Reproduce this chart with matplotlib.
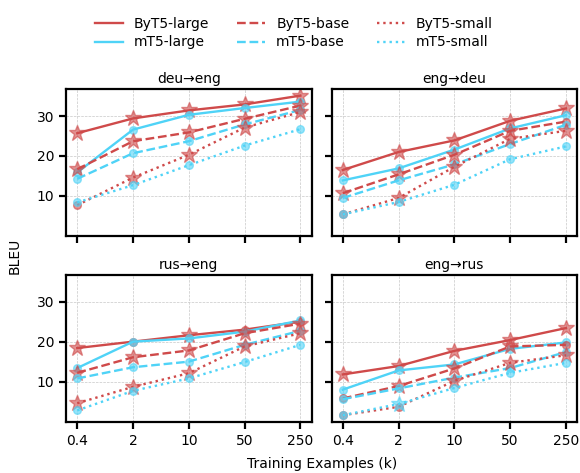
import matplotlib
matplotlib.use("Agg")
import matplotlib.pyplot as plt
import numpy as np

# training set sizes (thousands of examples)
sizes = ["0.4", "2", "10", "50", "250"]
pairs = ["deu→eng", "eng→deu", "rus→eng", "eng→rus"]

# BLEU per language pair (rows follow `pairs`)
byt5_large = [[25.7, 29.4, 31.4, 32.9, 35.1],
              [16.5, 21.0, 23.9, 28.8, 31.9],
              [18.4, 20.0, 21.6, 23.0, 25.0],
              [11.8, 13.9, 17.7, 20.4, 23.4]]
mt5_large = [[15.9, 26.6, 30.3, 32.0, 33.6],
             [13.9, 16.9, 21.6, 26.9, 30.2],
             [13.4, 20.0, 20.8, 22.5, 25.3],
             [8.0, 12.8, 14.3, 18.2, 19.8]]
byt5_base = [[16.7, 23.7, 25.9, 29.3, 32.6],
             [10.7, 15.4, 20.3, 26.3, 28.6],
             [12.2, 16.1, 17.8, 22.1, 24.5],
             [5.8, 8.9, 13.3, 18.8, 19.2]]
mt5_base = [[14.3, 20.7, 23.7, 27.9, 31.5],
            [9.5, 13.9, 17.9, 23.0, 27.8],
            [10.8, 13.6, 15.0, 19.2, 22.7],
            [5.6, 8.3, 11.0, 13.4, 17.4]]
byt5_small = [[7.7, 14.6, 20.3, 27.1, 31.0],
              [5.4, 9.5, 17.3, 24.3, 26.3],
              [4.6, 8.7, 12.1, 18.8, 22.1],
              [1.6, 3.7, 10.2, 14.7, 16.6]]
mt5_small = [[8.4, 12.7, 17.7, 22.6, 26.7],
             [5.4, 8.5, 12.8, 19.2, 22.4],
             [2.8, 7.7, 10.8, 14.9, 19.2],
             [1.6, 4.4, 8.4, 12.2, 14.7]]

# 1 = significantly better than the other model of the same size (star)
byt5_large_sig = [[1, 1, 1, 1, 1], [1, 1, 1, 1, 1], [1, 0, 1, 0, 0], [1, 1, 1, 1, 1]]
mt5_large_sig = [[0, 0, 0, 0, 0]] * 4
byt5_base_sig = [[1, 1, 1, 1, 1], [1, 1, 1, 1, 0], [1, 1, 1, 1, 1], [0, 1, 1, 1, 0]]
mt5_base_sig = [[0, 0, 0, 0, 0]] * 4
byt5_small_sig = [[0, 1, 1, 1, 1], [0, 1, 1, 1, 1], [1, 1, 1, 1, 1], [0, 0, 1, 1, 1]]
mt5_small_sig = [[0, 0, 0, 0, 0], [0, 0, 0, 0, 0], [0, 0, 0, 0, 0], [0, 1, 0, 0, 0]]

RED = "#cf4a4a"
CYAN = "#4fd3f7"

series = [
    ("ByT5-large", byt5_large, byt5_large_sig, RED, "-"),
    ("mT5-large", mt5_large, mt5_large_sig, CYAN, "-"),
    ("ByT5-base", byt5_base, byt5_base_sig, RED, "--"),
    ("mT5-base", mt5_base, mt5_base_sig, CYAN, "--"),
    ("ByT5-small", byt5_small, byt5_small_sig, RED, ":"),
    ("mT5-small", mt5_small, mt5_small_sig, CYAN, ":"),
]

fig, axes = plt.subplots(2, 2, figsize=(5.8, 4.73), dpi=100, sharex=True, sharey=True)
fig.subplots_adjust(left=0.114, right=0.995, top=0.812, bottom=0.108,
                    wspace=0.082, hspace=0.26)

x = np.arange(len(sizes))
handles = {}
for k, ax in enumerate(axes.flat):
    for name, vals, sig, col, ls in series:
        y = np.array(vals[k])
        s = np.array(sig[k], dtype=bool)
        ln, = ax.plot(x, y, ls=ls, color=col, lw=1.7)
        handles[name] = ln
        ax.plot(x[~s], y[~s], "o", ls="none", color=col, ms=5.5, alpha=0.6)
        ax.plot(x[s], y[s], "*", ls="none", color=col, ms=12, alpha=0.6)
    ax.set_title(pairs[k], fontsize=10, pad=4)
    ax.grid(True, ls="--", lw=0.5, color="#c8c8c8")
    for sp in ax.spines.values():
        sp.set_linewidth(1.6)
    ax.tick_params(width=1.6, length=5)

ax0 = axes[0, 0]
ax0.set_xticks(x)
ax0.set_xticklabels(sizes)
ax0.set_yticks([10, 20, 30])

fig.text(0.025, 0.46, "BLEU", rotation=90, ha="center", va="center", fontsize=10)
fig.text(0.555, 0.018, "Training Examples (k)", ha="center", va="center", fontsize=10)

order = ["ByT5-large", "mT5-large", "ByT5-base", "mT5-base", "ByT5-small", "mT5-small"]
fig.legend([handles[n] for n in order], order, loc="upper center",
           bbox_to_anchor=(0.507, 0.99), ncol=3, frameon=False, fontsize=10,
           labelspacing=0.3)

fig.savefig("out.png", dpi=100)
